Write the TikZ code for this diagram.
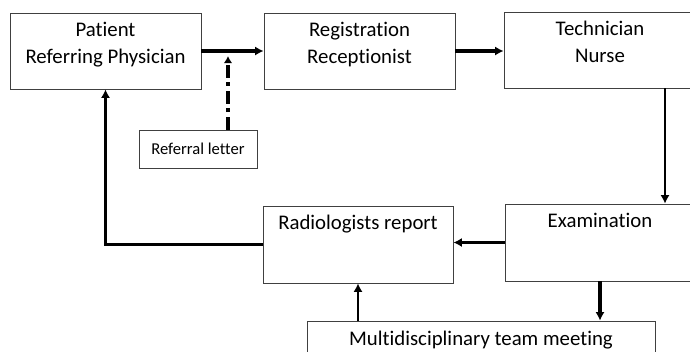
\documentclass[tikz,border=0pt]{standalone}
\usepackage{fontspec}
\setmainfont{Carlito}[Ligatures=NoCommon]
\usetikzlibrary{positioning,arrows.meta}
\tikzset{
	box/.style={draw=black!75, line width=0.6pt, rectangle, inner sep=0pt},
	boxtext/.style={align=center, inner sep=0pt, font=\fontsize{14.8}{19}\selectfont},
	flow/.style={line width=2.3pt, -{Latex[length=6pt,width=6.5pt]}},
	thinflow/.style={line width=1.9pt, -{Latex[length=6pt,width=6.5pt]}},
	letter/.style={line width=2.3pt, dash pattern=on 9pt off 3.5pt on 2.5pt off 3.5pt, -{Latex[length=5pt,width=6pt]}},
}
\begin{document}
\begin{tikzpicture}[x=0.025cm, y=-0.025cm]
				\useasboundingbox (0,0) rectangle (690,351);
				
				% top row
				\node[box, minimum width=4.775cm, minimum height=1.9cm] (pat) at (105.5,51){};
				\node[boxtext, below=6.5pt of pat.north] (pattxt){Patient\\Referring Physician};
				\node[box, minimum width=4.775cm, minimum height=1.9cm] (reg) at (359.5,51){};
				\node[boxtext, below=6.5pt of reg.north] (regtxt){Registration\\Receptionist};
				\node[box, minimum width=4.8cm, minimum height=1.9cm] (tech) at (600,50){};
				\node[boxtext, below=6.5pt of tech.north] (techtxt){Technician\\Nurse};
				
				% referral letter
				\node[box, minimum width=2.95cm, minimum height=0.95cm, font=\fontsize{11.8}{13}\selectfont] (ref) at (198,149){Referral letter};
				\coordinate (lt) at (228,56);
				
				% bottom row
				\node[box, minimum width=4.75cm, minimum height=1.925cm] (rad) at (358,244.5){};
				\node[boxtext, below=6.5pt of rad.north] (radtxt){Radiologists report};
				\node[box, minimum width=4.75cm, minimum height=1.925cm] (exam) at (600,242.5){};
				\node[boxtext, below=6.5pt of exam.north] (examtxt){Examination};
				\node[box, minimum width=8.7cm, minimum height=1.9cm] (mdt) at (481,359){};
				\node[boxtext, below=7.5pt of mdt.north] (mdttxt){Multidisciplinary team meeting};
				\coordinate (col) at (665,0);
				
				% connectors
				\draw[flow] (pat.east) -- (reg.west);
				\draw[flow] (reg.east) -- (reg.east -| tech.west);
				\draw[letter] (ref.north -| lt) -- (lt);
				\draw[thinflow] (tech.south -| col) -- (exam.north -| col);
				\draw[thinflow] (exam.west) -- (exam.west -| rad.east);
				\draw[flow] (exam.south) -- (exam.south |- mdt.north);
				\draw[thinflow] (mdt.north -| rad.south) -- (rad.south);
				\draw[flow] (rad.west) -| (pat.south);
			\end{tikzpicture}
\end{document}
